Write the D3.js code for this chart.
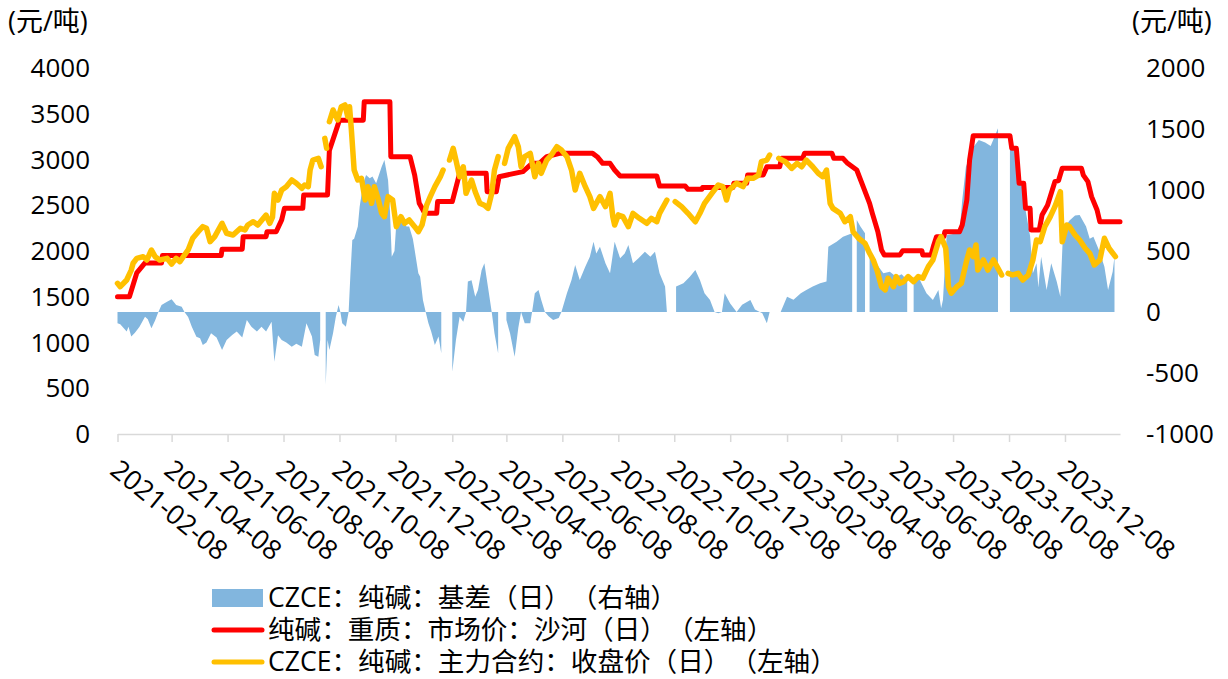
<!DOCTYPE html>
<html>
<head>
<meta charset="utf-8">
<script src="https://cdn.jsdelivr.net/npm/d3@7"></script>
<style>
  body { margin: 0; background: #fff; }
  svg text { font-family: "Open Sans", "Noto Sans CJK SC", sans-serif; fill: #000; text-spacing-trim: space-all; }
</style>
</head>
<body>
<svg id="chart" width="1228" height="679"></svg>
<script>
// 基差（右轴），null = 缺数据
const basis = [
  ["2021-02-08",-93],["2021-02-11",-100],["2021-02-18",-160],["2021-02-20",-120],["2021-02-23",-200],
  ["2021-02-27",-170],["2021-03-04",-120],["2021-03-10",-38],["2021-03-13",-60],["2021-03-17",-134],
  ["2021-03-21",-70],["2021-03-24",-11],["2021-03-28",57],["2021-04-03",84],["2021-04-08",104],
  ["2021-04-13",57],["2021-04-19",43],["2021-04-22",0],["2021-04-26",-40],["2021-04-30",-120],
  ["2021-05-05",-202],["2021-05-09",-215],["2021-05-12",-270],["2021-05-16",-250],["2021-05-21",-175],
  ["2021-05-27",-210],["2021-06-02",-311],["2021-06-07",-230],["2021-06-13",-189],["2021-06-18",-160],
  ["2021-06-24",-210],["2021-06-29",-66],["2021-07-04",-120],["2021-07-10",-160],["2021-07-15",-120],
  ["2021-07-20",-160],["2021-07-26",-80],["2021-07-29",-407],["2021-08-02",-190],["2021-08-06",-230],
  ["2021-08-11",-250],["2021-08-17",-284],["2021-08-22",-260],["2021-08-28",-284],["2021-09-02",-93],
  ["2021-09-08",-200],["2021-09-11",-352],["2021-09-15",-366],["2021-09-17",-230],["2021-09-20",null],
  ["2021-09-23",-598],["2021-09-25",-230],["2021-09-27",-311],["2021-10-01",-175],["2021-10-04",-40],
  ["2021-10-07",57],["2021-10-09",0],["2021-10-11",-93],["2021-10-15",-120],["2021-10-18",0],
  ["2021-10-20",317],["2021-10-22",590],["2021-10-24",600],["2021-10-28",700],["2021-10-30",863],
  ["2021-11-03",1055],["2021-11-06",1123],["2021-11-10",1096],["2021-11-13",1110],["2021-11-17",1055],
  ["2021-11-23",1191],["2021-11-26",1246],["2021-11-30",1080],["2021-12-02",836],["2021-12-04",453],
  ["2021-12-07",500],["2021-12-09",727],["2021-12-13",740],["2021-12-16",781],["2021-12-20",700],
  ["2021-12-23",700],["2021-12-27",600],["2021-12-29",508],["2022-01-02",317],["2022-01-04",289],
  ["2022-01-07",98],["2022-01-10",0],["2022-01-13",-93],["2022-01-16",-160],["2022-01-20",-270],
  ["2022-01-24",-200],["2022-01-27",-339],["2022-01-30",null],["2022-02-08",-489],["2022-02-12",-230],
  ["2022-02-16",-38],["2022-02-20",-80],["2022-02-23",0],["2022-02-25",249],["2022-03-01",260],
  ["2022-03-05",126],["2022-03-08",180],["2022-03-12",344],["2022-03-15",399],["2022-03-19",200],
  ["2022-03-23",0],["2022-03-26",-175],["2022-03-30",-339],["2022-04-02",null],["2022-04-08",-66],
  ["2022-04-12",-175],["2022-04-17",-366],["2022-04-21",-130],["2022-04-24",0],["2022-04-28",-93],
  ["2022-05-04",-93],["2022-05-06",0],["2022-05-09",153],["2022-05-13",180],["2022-05-16",98],
  ["2022-05-20",0],["2022-05-24",-35],["2022-05-29",-66],["2022-06-04",-50],["2022-06-07",0],
  ["2022-06-13",153],["2022-06-18",262],["2022-06-22",385],["2022-06-27",262],["2022-07-03",371],
  ["2022-07-08",453],["2022-07-12",576],["2022-07-15",480],["2022-07-19",535],["2022-07-25",400],
  ["2022-07-30",317],["2022-08-04",576],["2022-08-10",440],["2022-08-15",480],["2022-08-19",549],
  ["2022-08-24",399],["2022-08-30",440],["2022-09-06",494],["2022-09-12",453],["2022-09-17",494],
  ["2022-09-22",317],["2022-09-28",208],["2022-09-30",0],["2022-10-03",null],["2022-10-10",208],
  ["2022-10-18",235],["2022-10-25",289],["2022-10-31",344],["2022-11-05",262],["2022-11-10",153],
  ["2022-11-16",98],["2022-11-21",0],["2022-11-25",-11],["2022-11-29",0],["2022-12-02",153],
  ["2022-12-08",70],["2022-12-15",0],["2022-12-21",60],["2022-12-30",98],["2023-01-04",20],
  ["2023-01-12",-11],["2023-01-17",-93],["2023-01-20",0],["2023-01-23",null],["2023-02-01",0],
  ["2023-02-08",126],["2023-02-15",100],["2023-02-23",153],["2023-03-01",180],["2023-03-08",208],
  ["2023-03-16",235],["2023-03-23",249],["2023-03-25",535],["2023-04-03",576],["2023-04-10",617],
  ["2023-04-20",645],["2023-04-22",null],["2023-04-25",754],["2023-04-29",700],["2023-05-04",645],
  ["2023-05-06",null],["2023-05-09",453],["2023-05-16",399],["2023-05-24",317],["2023-05-31",330],
  ["2023-06-07",289],["2023-06-13",310],["2023-06-19",260],["2023-06-21",null],["2023-06-26",289],
  ["2023-07-03",260],["2023-07-10",153],["2023-07-17",98],["2023-07-23",180],["2023-07-26",30],
  ["2023-07-28",100],["2023-08-01",630],["2023-08-08",640],["2023-08-15",650],["2023-08-18",918],
  ["2023-08-22",1191],["2023-08-25",1250],["2023-08-29",1340],["2023-09-05",1410],["2023-09-12",1390],
  ["2023-09-18",1360],["2023-09-23",1451],["2023-09-26",1506],["2023-09-28",null],["2023-10-09",1383],
  ["2023-10-14",1330],["2023-10-20",1140],["2023-10-25",880],["2023-10-31",620],["2023-11-03",317],
  ["2023-11-07",400],["2023-11-09",200],["2023-11-12",453],["2023-11-18",180],["2023-11-23",400],
  ["2023-11-29",250],["2023-12-03",126],["2023-12-06",680],["2023-12-13",750],["2023-12-19",790],
  ["2023-12-24",795],["2023-12-31",700],["2024-01-04",600],["2024-01-08",617],["2024-01-15",490],
  ["2024-01-20",371],["2024-01-24",180],["2024-01-29",330],["2024-01-31",453]
];

// 沙河重质纯碱市场价（左轴）
const spot = [
  ["2021-02-08",1500],["2021-02-21",1500],["2021-03-01",1760],["2021-03-10",1870],["2021-03-28",1870],
  ["2021-03-29",1950],["2021-06-01",1950],["2021-06-02",2020],["2021-06-24",2020],["2021-06-25",2157],
  ["2021-07-20",2157],["2021-07-21",2211],["2021-07-31",2211],["2021-08-06",2340],["2021-08-09",2466],
  ["2021-08-29",2466],["2021-08-30",2612],["2021-09-25",2612],["2021-09-27",3100],["2021-10-08",3430],
  ["2021-11-03",3430],["2021-11-04",3632],["2021-12-02",3632],["2021-12-03",3030],["2021-12-24",3030],
  ["2021-12-29",2830],["2022-01-03",2521],["2022-01-09",2412],["2022-01-22",2412],["2022-01-23",2540],
  ["2022-02-08",2540],["2022-02-16",2849],["2022-03-17",2849],["2022-03-18",2648],["2022-03-28",2648],
  ["2022-03-31",2812],["2022-04-26",2867],["2022-05-06",2958],["2022-05-14",2958],["2022-05-22",3031],
  ["2022-06-05",3067],["2022-07-11",3067],["2022-07-16",3031],["2022-07-22",2958],["2022-07-30",2958],
  ["2022-08-04",2885],["2022-08-10",2820],["2022-09-19",2820],["2022-09-22",2710],["2022-10-20",2710],
  ["2022-10-23",2674],["2022-11-07",2674],["2022-11-08",2695],["2022-12-11",2695],["2022-12-12",2740],
  ["2022-12-26",2740],["2022-12-27",2830],["2023-01-13",2830],["2023-01-17",2921],["2023-01-31",2921],
  ["2023-02-02",3013],["2023-02-25",3013],["2023-02-27",3067],["2023-03-29",3067],["2023-03-31",3013],
  ["2023-04-10",3013],["2023-04-15",2958],["2023-04-25",2885],["2023-05-02",2703],["2023-05-09",2521],
  ["2023-05-12",2412],["2023-05-18",2211],["2023-05-22",2011],["2023-05-25",1956],["2023-06-11",1956],
  ["2023-06-14",2003],["2023-07-05",2003],["2023-07-06",1956],["2023-07-15",1956],["2023-07-18",2066],
  ["2023-07-21",2157],["2023-07-29",2157],["2023-07-30",2211],["2023-08-15",2211],["2023-08-18",2284],
  ["2023-08-23",2557],["2023-08-26",2994],["2023-08-30",3260],["2023-10-09",3260],["2023-10-11",3122],
  ["2023-10-16",3122],["2023-10-19",2740],["2023-10-24",2740],["2023-10-26",2466],["2023-10-31",2466],
  ["2023-11-01",2230],["2023-11-10",2230],["2023-11-13",2393],["2023-11-19",2500],["2023-11-27",2758],
  ["2023-12-01",2770],["2023-12-05",2904],["2023-12-26",2904],["2023-12-28",2830],["2024-01-02",2758],
  ["2024-01-06",2594],["2024-01-12",2448],["2024-01-15",2320],["2024-02-06",2320]
];

// 主力合约收盘价（左轴），null = 换月缺口
const futures = [
  ["2021-02-08",1647],["2021-02-11",1610],["2021-02-18",1683],["2021-02-23",1792],["2021-02-25",1866],
  ["2021-03-01",1920],["2021-03-08",1938],["2021-03-12",1902],["2021-03-17",2011],["2021-03-21",1938],
  ["2021-03-26",1902],["2021-04-03",1920],["2021-04-08",1858],["2021-04-13",1920],["2021-04-17",1883],
  ["2021-04-22",1956],["2021-04-26",2011],["2021-05-01",2139],["2021-05-07",2211],["2021-05-12",2266],
  ["2021-05-16",2248],["2021-05-20",2102],["2021-05-25",2157],["2021-06-02",2303],["2021-06-07",2194],
  ["2021-06-14",2175],["2021-06-22",2248],["2021-06-27",2230],["2021-06-30",2284],["2021-07-06",2320],
  ["2021-07-11",2284],["2021-07-17",2357],["2021-07-20",2393],["2021-07-24",2303],["2021-07-27",2370],
  ["2021-07-29",2630],["2021-08-02",2557],["2021-08-06",2667],["2021-08-11",2703],["2021-08-17",2776],
  ["2021-08-22",2740],["2021-08-28",2685],["2021-08-31",2721],["2021-09-04",2703],["2021-09-06",2885],
  ["2021-09-09",2994],["2021-09-15",3013],["2021-09-18",2921],["2021-09-20",null],["2021-09-22",3231],
  ["2021-09-24",3122],["2021-09-26",null],["2021-09-27",3413],["2021-10-01",3541],["2021-10-06",3432],
  ["2021-10-10",3577],["2021-10-14",3596],["2021-10-17",3468],["2021-10-19",3577],["2021-10-21",3322],
  ["2021-10-24",2885],["2021-10-28",2776],["2021-11-01",2794],["2021-11-05",2557],["2021-11-08",2703],
  ["2021-11-12",2521],["2021-11-15",2703],["2021-11-19",2575],["2021-11-23",2412],["2021-11-26",2375],
  ["2021-11-30",2594],["2021-12-05",2557],["2021-12-09",2266],["2021-12-14",2375],["2021-12-18",2303],
  ["2021-12-23",2339],["2021-12-29",2266],["2022-01-02",2211],["2022-01-06",2284],["2022-01-11",2500],
  ["2022-01-15",2594],["2022-01-20",2703],["2022-01-26",2812],["2022-01-29",2885],["2022-02-01",null],
  ["2022-02-05",2994],["2022-02-09",3122],["2022-02-12",2994],["2022-02-16",2812],["2022-02-20",2921],
  ["2022-02-23",2630],["2022-03-01",2776],["2022-03-05",2648],["2022-03-10",2521],["2022-03-15",2500],
  ["2022-03-19",2466],["2022-03-23",2630],["2022-03-26",2885],["2022-03-30",3031],["2022-04-02",null],
  ["2022-04-06",2958],["2022-04-10",3122],["2022-04-13",3177],["2022-04-17",3249],["2022-04-21",3140],
  ["2022-04-24",2921],["2022-04-28",3031],["2022-05-04",3067],["2022-05-09",2812],["2022-05-13",2958],
  ["2022-05-16",2849],["2022-05-22",2994],["2022-05-27",3049],["2022-06-02",3140],["2022-06-07",3103],
  ["2022-06-13",3031],["2022-06-18",2885],["2022-06-22",2667],["2022-06-27",2849],["2022-07-03",2703],
  ["2022-07-08",2594],["2022-07-12",2466],["2022-07-19",2594],["2022-07-25",2485],["2022-07-30",2630],
  ["2022-08-02",2375],["2022-08-04",2284],["2022-08-08",2394],["2022-08-13",2375],["2022-08-19",2266],
  ["2022-08-24",2412],["2022-08-31",2357],["2022-09-08",2303],["2022-09-13",2357],["2022-09-19",2320],
  ["2022-09-22",2412],["2022-09-30",2557],["2022-10-03",null],["2022-10-09",2540],["2022-10-16",2485],
  ["2022-10-23",2412],["2022-10-31",2320],["2022-11-05",2412],["2022-11-10",2521],["2022-11-18",2630],
  ["2022-11-25",2721],["2022-11-30",2703],["2022-12-04",2557],["2022-12-07",2667],["2022-12-15",2740],
  ["2022-12-22",2703],["2022-12-27",2794],["2023-01-02",2794],["2023-01-08",2830],["2023-01-11",2976],
  ["2023-01-17",2994],["2023-01-20",3049],["2023-01-23",null],["2023-01-30",3013],["2023-02-06",2976],
  ["2023-02-13",2903],["2023-02-19",2958],["2023-02-24",2921],["2023-03-01",2994],["2023-03-08",2921],
  ["2023-03-14",2849],["2023-03-19",2812],["2023-03-23",2885],["2023-03-27",2521],["2023-03-30",2466],
  ["2023-04-07",2412],["2023-04-12",2320],["2023-04-18",2375],["2023-04-21",2211],["2023-04-27",2139],
  ["2023-05-04",2084],["2023-05-09",1975],["2023-05-13",1902],["2023-05-17",1792],["2023-05-22",1610],
  ["2023-05-26",1575],["2023-05-29",1702],["2023-06-04",1610],["2023-06-07",1720],["2023-06-11",1647],
  ["2023-06-15",1665],["2023-06-20",1720],["2023-06-26",1665],["2023-07-01",1720],["2023-07-06",1702],
  ["2023-07-12",1829],["2023-07-17",1902],["2023-07-23",2102],["2023-07-26",2157],["2023-07-31",2030],
  ["2023-08-03",1610],["2023-08-06",1538],["2023-08-12",1610],["2023-08-17",1647],["2023-08-23",1902],
  ["2023-08-26",2011],["2023-08-30",1938],["2023-09-02",2066],["2023-09-04",1792],["2023-09-10",1902],
  ["2023-09-15",1792],["2023-09-21",1902],["2023-09-26",1810],["2023-09-30",1738],["2023-10-03",null],
  ["2023-10-07",1756],["2023-10-12",1738],["2023-10-18",1756],["2023-10-23",1683],["2023-10-29",1738],
  ["2023-11-03",1902],["2023-11-07",2120],["2023-11-11",2102],["2023-11-16",2266],["2023-11-22",2375],
  ["2023-11-27",2484],["2023-12-03",2648],["2023-12-05",2102],["2023-12-10",2284],["2023-12-13",2266],
  ["2023-12-19",2175],["2023-12-24",2120],["2023-12-30",2030],["2024-01-04",1975],["2024-01-09",1847],
  ["2024-01-15",1902],["2024-01-20",2139],["2024-01-25",2030],["2024-02-01",1938]
];

const leftTicks = [0, 500, 1000, 1500, 2000, 2500, 3000, 3500, 4000];
const rightTicks = [-1000, -500, 0, 500, 1000, 1500, 2000];
const xTickLabels = ["2021-02-08","2021-04-08","2021-06-08","2021-08-08","2021-10-08","2021-12-08",
  "2022-02-08","2022-04-08","2022-06-08","2022-08-08","2022-10-08","2022-12-08",
  "2023-02-08","2023-04-08","2023-06-08","2023-08-08","2023-10-08","2023-12-08"];
const legendItems = [
  { label: "CZCE：纯碱：基差（日）（右轴）", type: "area", color: "#82b6de" },
  { label: "纯碱：重质：市场价：沙河（日）（左轴）", type: "line", color: "#ff0000" },
  { label: "CZCE：纯碱：主力合约：收盘价（日）（左轴）", type: "line", color: "#ffc000" }
];

const parse = d3.timeParse("%Y-%m-%d");
const toRows = arr => arr.map(d => ({ date: parse(d[0]), v: d[1] }));

const svg = d3.select("#chart");

const x = d3.scaleTime()
  .domain([parse("2021-02-08"), parse("2024-02-06")])
  .range([117.5, 1120]);
const yL = d3.scaleLinear().domain([0, 4000]).range([434, 68]);
const yR = d3.scaleLinear().domain([-1000, 2000]).range([434, 68]);

// 基差面积
const area = d3.area()
  .defined(d => d.v != null)
  .x(d => x(d.date))
  .y0(yR(0))
  .y1(d => yR(d.v));

svg.append("path")
  .datum(toRows(basis))
  .attr("d", area)
  .attr("fill", "#82b6de");

// 底部坐标轴
const xAxis = d3.axisBottom(x)
  .tickValues(xTickLabels.map(parse))
  .tickSize(8)
  .tickSizeOuter(0)
  .tickFormat("");

const gx = svg.append("g")
  .attr("transform", "translate(0,434)")
  .call(xAxis);
gx.select(".domain").attr("stroke", "#d9d9d9").attr("stroke-width", 1.5);
gx.selectAll(".tick line").attr("stroke", "#d9d9d9").attr("stroke-width", 1.5);

svg.append("g")
  .selectAll("text")
  .data(xTickLabels)
  .join("text")
  .attr("transform", d => `translate(${x(parse(d)) - 9},473) rotate(39)`)
  .attr("font-size", 27)
  .text(d => d);

// 两条价格线
const line = y => d3.line()
  .defined(d => d.v != null)
  .x(d => x(d.date))
  .y(d => y(d.v));

svg.append("path")
  .datum(toRows(spot))
  .attr("d", line(yL))
  .attr("fill", "none")
  .attr("stroke", "#ff0000")
  .attr("stroke-width", 5)
  .attr("stroke-linejoin", "round")
  .attr("stroke-linecap", "round");

svg.append("path")
  .datum(toRows(futures))
  .attr("d", line(yL))
  .attr("fill", "none")
  .attr("stroke", "#ffc000")
  .attr("stroke-width", 5.5)
  .attr("stroke-linejoin", "round")
  .attr("stroke-linecap", "round");

// 左右轴刻度
svg.append("g")
  .selectAll("text")
  .data(leftTicks)
  .join("text")
  .attr("x", 90)
  .attr("y", d => yL(d))
  .attr("dy", "0.35em")
  .attr("text-anchor", "end")
  .attr("font-size", 26)
  .text(d => d);

svg.append("g")
  .selectAll("text")
  .data(rightTicks)
  .join("text")
  .attr("x", 1146)
  .attr("y", d => yR(d))
  .attr("dy", "0.35em")
  .attr("font-size", 26)
  .text(d => d);

svg.append("text").attr("x", 8).attr("y", 31).attr("font-size", 27).text("(元/吨)");
svg.append("text").attr("x", 1132).attr("y", 31).attr("font-size", 27).text("(元/吨)");

// 图例
const lg = svg.append("g").selectAll("g")
  .data(legendItems)
  .join("g")
  .attr("transform", (d, i) => `translate(212,${598 + i * 32})`);

lg.filter(d => d.type === "area").append("rect")
  .attr("x", 0).attr("y", -9).attr("width", 51).attr("height", 18)
  .attr("fill", d => d.color);

lg.filter(d => d.type === "line").append("line")
  .attr("x1", 2).attr("x2", 50).attr("y1", 0).attr("y2", 0)
  .attr("stroke", d => d.color)
  .attr("stroke-width", 5)
  .attr("stroke-linecap", "round");

lg.append("text")
  .attr("x", 56)
  .attr("dy", "0.35em")
  .attr("font-size", 26.6)
  .text(d => d.label);
</script>
</body>
</html>
